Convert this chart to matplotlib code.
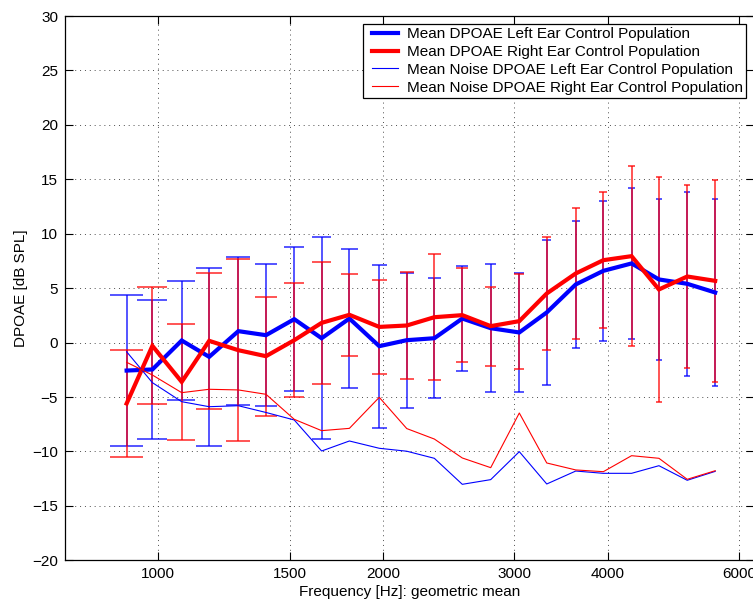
import matplotlib
matplotlib.use("Agg")
import matplotlib.pyplot as plt
from matplotlib.ticker import FixedLocator, FixedFormatter, NullLocator
from matplotlib.lines import Line2D
from matplotlib.legend_handler import HandlerLine2D
import numpy as np

plt.rcParams['font.family'] = ['Liberation Sans', 'DejaVu Sans']
plt.rcParams['font.size'] = 11

# ---- data ----
freqs = [907, 982, 1075, 1170, 1280, 1394, 1521, 1655, 1803, 1977, 2152,
         2343, 2554, 2788, 3045, 3314, 3624, 3946, 4305, 4684, 5111, 5572]

left_mean = [-2.57, -2.47, 0.19, -1.31, 1.05, 0.68, 2.15, 0.40, 2.21, -0.33, 0.22,
             0.40, 2.21, 1.32, 0.93, 2.77, 5.34, 6.59, 7.27, 5.80, 5.40, 4.60]
left_std = [6.93, 6.38, 5.50, 8.20, 6.77, 6.54, 6.63, 9.26, 6.36, 7.49, 6.19,
            5.53, 4.85, 5.90, 5.44, 6.65, 5.87, 6.42, 6.94, 7.43, 8.44, 8.55]

right_mean = [-5.60, -0.30, -3.61, 0.16, -0.70, -1.25, 0.22, 1.81, 2.55, 1.44, 1.57,
              2.33, 2.52, 1.51, 1.97, 4.51, 6.35, 7.57, 7.94, 4.88, 6.07, 5.67]
right_std = [4.90, 5.37, 5.33, 6.22, 8.38, 5.48, 5.24, 5.60, 3.78, 4.29, 4.93,
             5.79, 4.32, 3.63, 4.37, 5.18, 6.05, 6.27, 8.26, 10.31, 8.43, 9.27]

left_noise = [-0.84, -3.68, -5.43, -5.89, -5.80, -6.42, -7.11, -9.96, -9.04, -9.71, -9.98,
              -10.63, -13.02, -12.59, -10.02, -12.99, -11.80, -12.01, -12.01, -11.31, -12.65, -11.83]
right_noise = [-1.81, -2.98, -4.60, -4.29, -4.35, -4.75, -7.05, -8.09, -7.88, -5.03, -7.90,
               -8.86, -10.60, -11.49, -6.47, -11.06, -11.70, -11.86, -10.39, -10.63, -12.56, -11.77]

xticks = [1000, 1500, 2000, 3000, 4000, 6000]
xticklabels = ['1000', '1500', '2000', '3000', '4000', '6000']
yticks = [-20, -15, -10, -5, 0, 5, 10, 15, 20, 25, 30]

labels = ['Mean DPOAE Left Ear Control Population',
          'Mean DPOAE Right Ear Control Population',
          'Mean Noise DPOAE Left Ear Control Population',
          'Mean Noise DPOAE Right Ear Control Population']

BLUE = (0, 0, 1)
RED = (1, 0, 0)

fig = plt.figure(figsize=(7.53, 5.99), dpi=100)
ax = fig.add_axes([65 / 753, (599 - 560.3) / 599, 689 / 753, 544.3 / 599])
ax.set_xscale('log')
ax.set_xlim(750, 6280)
ax.set_ylim(-20, 30)

f = np.array(freqs, dtype=float)
tee = (f.max() - f.min()) / 100.0  # MATLAB-style errorbar cap half-width in data units


def errbars(mean, std, color):
    m = np.array(mean)
    s = np.array(std)
    ax.vlines(f, m - s, m + s, colors=[color], linewidth=1.1, alpha=0.85, zorder=2)
    ax.hlines(m + s, f - tee, f + tee, colors=[color], linewidth=1.1, alpha=0.85, zorder=2)
    ax.hlines(m - s, f - tee, f + tee, colors=[color], linewidth=1.1, alpha=0.85, zorder=2)


errbars(left_mean, left_std, BLUE)
ax.plot(f, left_mean, color=BLUE, linewidth=3.0, zorder=3, solid_joinstyle='miter')
errbars(right_mean, right_std, RED)
ax.plot(f, right_mean, color=RED, linewidth=3.0, zorder=3, solid_joinstyle='miter')
ax.plot(f, left_noise, color=BLUE, linewidth=0.8, zorder=4)
ax.plot(f, right_noise, color=RED, linewidth=0.8, zorder=4)

ax.xaxis.set_major_locator(FixedLocator(xticks))
ax.xaxis.set_major_formatter(FixedFormatter(xticklabels))
ax.xaxis.set_minor_locator(NullLocator())
ax.set_yticks(yticks)
ax.tick_params(which='both', direction='in', top=True, right=True, length=5.5,
               width=0.8, pad=5, labelsize=11, colors='black')
ax.grid(True, which='major', linestyle=(0, (1, 4)), color='0.3', linewidth=0.7)
ax.set_axisbelow(True)
for sp in ax.spines.values():
    sp.set_linewidth(0.9)
    sp.set_color('black')

ax.set_xlabel('Frequency [Hz]: geometric mean', fontsize=11)
ax.set_ylabel('DPOAE [dB SPL]', fontsize=11)
ax.yaxis.set_label_coords(-0.0537, 0.5)
ax.xaxis.set_label_coords(0.5, -0.0455)

handles = [Line2D([], [], color=BLUE, linewidth=3.0),
           Line2D([], [], color=RED, linewidth=3.0),
           Line2D([], [], color=BLUE, linewidth=0.8),
           Line2D([], [], color=RED, linewidth=0.8)]
hmap = {h: HandlerLine2D(marker_pad=0.38, numpoints=2) for h in handles}
leg = ax.legend(handles, labels, loc='upper right', fontsize=11, frameon=True,
                fancybox=False, shadow=False, framealpha=1, edgecolor='black',
                borderpad=0.21, labelspacing=0.25, handlelength=2.44,
                handletextpad=0.21, borderaxespad=0.52, handler_map=hmap)
leg.get_frame().set_linewidth(0.9)
leg.set_zorder(10)

fig.savefig('out.png', dpi=100)
